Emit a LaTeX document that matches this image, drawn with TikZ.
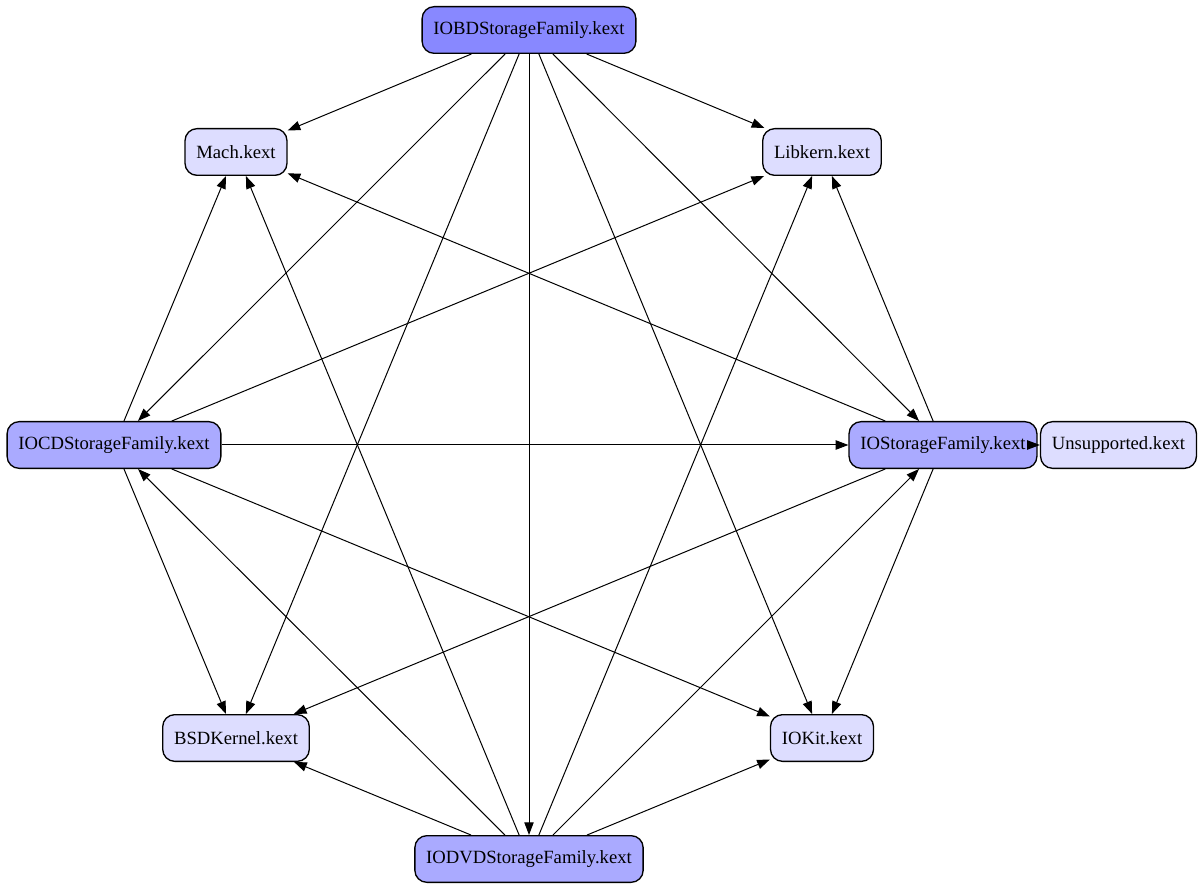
\documentclass[tikz,border=0pt]{standalone}
\usepackage{fontspec}
\setmainfont{Liberation Serif}
\usepackage{tikz}
\usetikzlibrary{arrows.meta}
\definecolor{topblue}{HTML}{8888FF}
\definecolor{midblue}{HTML}{AAAAFF}
\definecolor{lowblue}{HTML}{DDDDFF}

\begin{document}
\begin{tikzpicture}[x=0.75pt, y=-0.75pt, font=\fontsize{14pt}{16pt}\selectfont,
  kext/.style={rectangle, draw=black, line width=1pt, rounded corners=9pt, minimum height=35pt, inner xsep=8.5pt},
  dep/.style={-{Triangle[length=9.5pt,width=7pt]}, line width=0.75pt}]

\useasboundingbox (0,0) rectangle (1204,891);

\node at (529,30)[kext, fill=topblue] (iobd) {IOBDStorageFamily.kext};
\node at (236,152)[kext, fill=lowblue] (mach) {Mach.kext};
\node at (822,152)[kext, fill=lowblue] (libkern) {Libkern.kext};
\node at (114,445)[kext, fill=midblue] (iocd) {IOCDStorageFamily.kext};
\node at (943,445)[kext, fill=midblue] (iostorage) {IOStorageFamily.kext};
\node at (1118.5,445)[kext, fill=lowblue] (unsupported) {Unsupported.kext};
\node at (236,738)[kext, fill=lowblue] (bsdkernel) {BSDKernel.kext};
\node at (822,738)[kext, fill=lowblue] (iokit) {IOKit.kext};
\node at (529,859)[kext, fill=midblue] (iodvd) {IODVDStorageFamily.kext};

\foreach \dst in {mach, libkern, iocd, iostorage, bsdkernel, iokit, iodvd}
  \draw[dep] (iobd) -- (\dst);

\foreach \dst in {mach, libkern, iostorage, bsdkernel, iokit}
  \draw[dep] (iocd) -- (\dst);

\foreach \dst in {iocd, mach, libkern, iostorage, bsdkernel, iokit}
  \draw[dep] (iodvd) -- (\dst);

\foreach \dst in {mach, libkern, bsdkernel, iokit, unsupported}
  \draw[dep] (iostorage) -- (\dst);

\end{tikzpicture}
\end{document}
